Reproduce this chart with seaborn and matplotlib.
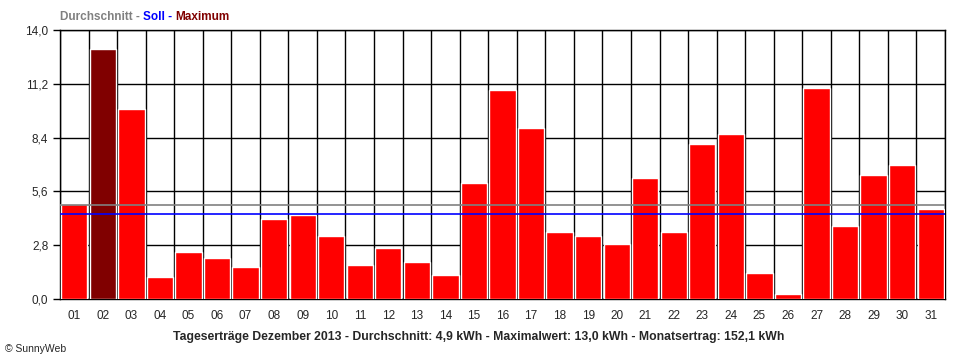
import numpy as np
import pandas as pd
import matplotlib
matplotlib.use("Agg")
import matplotlib.pyplot as plt
import seaborn as sns
from matplotlib.ticker import FixedLocator

# ============ DATA ============
days = [f"{d:02d}" for d in range(1, 32)]
yield_kwh = [4.95, 13.0, 9.9, 1.15, 2.45, 2.15, 1.65, 4.15, 4.35, 3.3,
             1.75, 2.65, 1.95, 1.25, 6.05, 10.9, 8.9, 3.5, 3.3, 2.85,
             6.3, 3.5, 8.05, 8.6, 1.35, 0.25, 11.0, 3.8, 6.45, 7.0, 4.7]
average_kwh = 4.9
target_kwh = 4.43
y_ticks = [0.0, 2.8, 5.6, 8.4, 11.2, 14.0]
footer = ("Tageserträge Dezember 2013 - Durchschnitt: 4,9 kWh - "
          "Maximalwert: 13,0 kWh - Monatsertrag: 152,1 kWh")

df = pd.DataFrame({"day": days, "kwh": yield_kwh})
df["kind"] = np.where(df["kwh"] == df["kwh"].max(), "max", "normal")

# ============ PLOT ============
sns.set_style("white")
plt.rcParams["font.family"] = ["Liberation Sans", "DejaVu Sans"]

fig = plt.figure(figsize=(9.6, 3.6), dpi=100)
ax = fig.add_axes([60 / 960, 1 - 299 / 360, 885 / 960, 269 / 360])

sns.barplot(data=df, x="day", y="kwh", hue="kind",
            palette={"normal": "#ff0000", "max": "#800000"},
            width=0.92, saturation=1, dodge=False, legend=False, ax=ax, zorder=3)

ax.axhline(average_kwh, color="#808080", lw=1.2, zorder=4)
ax.axhline(target_kwh, color="#0000ff", lw=1.2, zorder=4)

ax.set_xlim(-0.5, len(days) - 0.5)
ax.set_ylim(0, 14.0)
ax.set_yticks(y_ticks)
ax.set_yticklabels([f"{v:.1f}".replace(".", ",") for v in y_ticks], fontsize=8.5)
ax.xaxis.set_minor_locator(FixedLocator(np.arange(-0.5, len(days), 1.0)))
ax.tick_params(axis="x", which="major", length=0, labelsize=8.5, pad=8)
ax.tick_params(axis="x", which="minor", length=5, width=1, color="black")
ax.tick_params(axis="y", length=5, width=1, color="black", left=True)
ax.grid(True, axis="y", color="black", lw=1, zorder=1)
ax.grid(True, axis="x", which="minor", color="black", lw=1, zorder=1)
ax.set_axisbelow(True)
for s in ax.spines.values():
    s.set_color("black")
    s.set_linewidth(1)
ax.set_xlabel("")
ax.set_ylabel("")

# legend title in three colours
t = fig.text(60 / 960, 1 - 17 / 360, "Durchschnitt - ", color="#808080",
             fontsize=8.5, fontweight="bold", va="center")
fig.canvas.draw()
bb = t.get_window_extent()
t2 = fig.text(bb.x1 / 960, 1 - 17 / 360, "Soll - ", color="#0000ff",
              fontsize=8.5, fontweight="bold", va="center")
fig.canvas.draw()
bb2 = t2.get_window_extent()
fig.text(bb2.x1 / 960, 1 - 17 / 360, "Maximum", color="#800000",
         fontsize=8.5, fontweight="bold", va="center")

fig.text(479 / 960, 1 - 337 / 360, footer, ha="center", va="center",
         fontsize=8.8, fontweight="bold")
fig.text(5 / 960, 1 - 349 / 360, "© SunnyWeb", ha="left", va="center", fontsize=7.5)

fig.savefig("out.png", dpi=100)
